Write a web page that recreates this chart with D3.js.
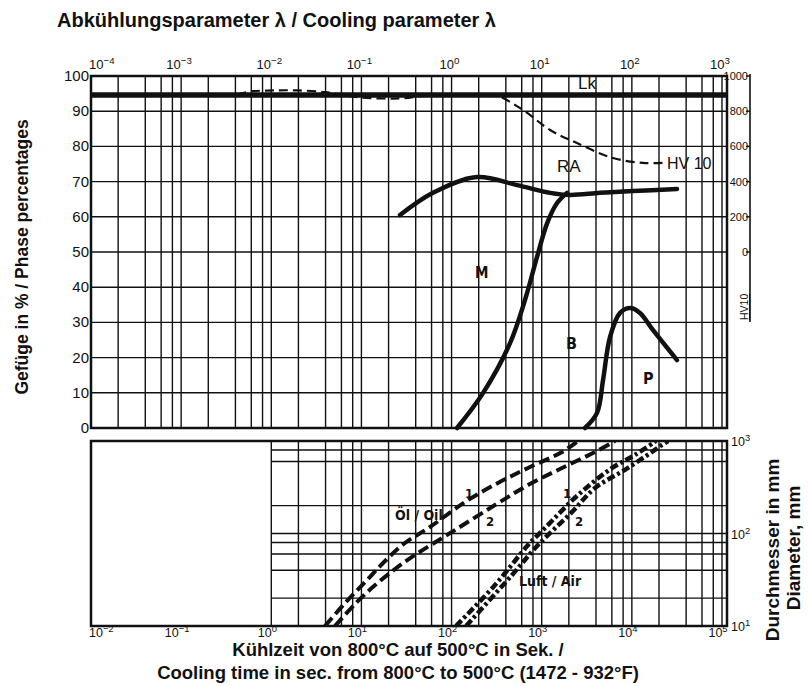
<!DOCTYPE html>
<html>
<head>
<meta charset="utf-8">
<script src="https://cdn.jsdelivr.net/npm/d3@7"></script>
<style>
  body { margin: 0; background: #fff; }
  text { font-family: "Liberation Sans", Arial, sans-serif; fill: #111; }
  .cond { font-family: "Liberation Sans Narrow", "DejaVu Sans Condensed", sans-serif; font-weight: bold; }
</style>
</head>
<body>
<div id="chart"></div>
<script>
// ---- datos ----
var topDecades = [-4, -3, -2, -1, 0, 1, 2, 3];        // lambda 10^n
var botDecades = [-2, -1, 0, 1, 2, 3, 4, 5];          // t8/5 en s
var gridMult = [1, 2, 4, 6, 8];
var pctTicks = [0, 10, 20, 30, 40, 50, 60, 70, 80, 90, 100];
var hvTicks = [0, 200, 400, 600, 800, 1000];
var diaTicks = [1, 2, 3];                              // 10^1..10^3 mm
var diaGrid = [10, 20, 40, 60, 80, 100, 200, 600, 800, 1000];
var lkLevel = 94.6;                                    // % linea Lk

// [lambda, HV10]
var hvCurve = [[0.0042, 895], [0.0058, 912], [0.0105, 918], [0.02, 918], [0.04, 908], [0.06, 893],
  [0.1, 878], [0.2, 872], [0.3, 874], [0.5, 887], [1, 892], [2, 892], [3.2, 887], [6.2, 807],
  [12.4, 693], [24.6, 619], [61.8, 534], [133, 506], [222, 506]];
// [lambda, %]
var raCurve = [[0.268, 60.5], [0.622, 66.8], [1.91, 71.3], [5.32, 69.0], [12.4, 66.8], [20.6, 66.2],
  [44.4, 66.8], [103, 67.3], [317, 67.9]];
var mCurve = [[1.15, 0], [2.23, 9.9], [4.45, 24.1], [6.53, 36.4], [8.87, 48.6], [11.5, 58.2],
  [14.8, 63.9], [19.1, 66.8]];
var pCurve = [[30.2, 0], [41.1, 4.3], [47.9, 13.6], [57.3, 25.9], [74, 32.7], [95.5, 34.1],
  [123, 32.7], [172, 27.8], [317, 19.3]];
// [t8/5 s, Durchmesser mm]
var oil1 = [[3.94, 10], [6.58, 17.7], [11.0, 29.9], [18.3, 50.5], [30.4, 78.9], [57.6, 117.5], [141, 219],
  [327, 352], [705, 511], [1680, 760], [2530, 1000]];
var oil2 = [[5.09, 10], [8.49, 17.3], [14.2, 27.7], [23.6, 41.3], [39.3, 58.6], [101, 104], [303, 203],
  [705, 334], [1680, 511], [3900, 760], [6500, 1000]];
var air1 = [[112, 10], [303, 27.7], [705, 75], [1090, 115], [2530, 261], [6030, 511], [10800, 706], [18500, 1000]];
var air2 = [[145, 10], [469, 35.6], [910, 75], [2170, 171], [3900, 310], [9060, 511], [21600, 906], [25200, 1000]];

var W = 808, H = 686;
var left = 91, right = 727, xEnd = 722;

var svg = d3.select("#chart").append("svg")
  .attr("width", W).attr("height", H);

// escalas
var xTop = d3.scaleLog().domain([1e-4, 1e3]).range([left, xEnd]);
var xBot = d3.scaleLog().domain([1e-2, 1e5]).range([left, xEnd]);
var yPct = d3.scaleLinear().domain([0, 100]).range([428, 76]);
var yHV = d3.scaleLinear().domain([0, 1000]).range([yPct(50), yPct(100)]);
var yDia = d3.scaleLog().domain([10, 1000]).range([626, 441]);

function supLabel(sel, base, exp, size) {
  sel.append("tspan").text(base);
  sel.append("tspan").attr("dy", -size * 0.4).style("font-size", (size * 0.75) + "px").text(exp);
}
function expStr(n) { return n < 0 ? "\u2212" + (-n) : String(n); }

// ---------- panel superior ----------
var gTop = svg.append("g");
var vTop = [];
topDecades.forEach(function(d) {
  gridMult.forEach(function(m) { var v = m * Math.pow(10, d); if (v <= 1e3) vTop.push(v); });
});
gTop.selectAll(".vg").data(vTop).enter().append("line")
  .attr("x1", function(d) { return xTop(d); }).attr("x2", function(d) { return xTop(d); })
  .attr("y1", yPct(100)).attr("y2", yPct(0))
  .attr("stroke", "#111").attr("stroke-width", 1.4);
gTop.selectAll(".hg").data(pctTicks).enter().append("line")
  .attr("x1", left).attr("x2", right)
  .attr("y1", function(d) { return yPct(d); }).attr("y2", function(d) { return yPct(d); })
  .attr("stroke", "#111").attr("stroke-width", 1.4);
gTop.append("rect").attr("x", left).attr("y", yPct(100)).attr("width", right - left)
  .attr("height", yPct(0) - yPct(100)).attr("fill", "none").attr("stroke", "#111").attr("stroke-width", 2.5);

// etiquetas eje superior
topDecades.forEach(function(d, i) {
  var t = gTop.append("text").attr("x", i === 0 ? left - 2 : xTop(Math.pow(10, d)) - 2)
    .attr("y", 69).attr("text-anchor", i === 0 ? "start" : "middle").style("font-size", "13px");
  supLabel(t, "10", expStr(d), 13);
});
// eje izquierdo
gTop.selectAll(".pl").data(pctTicks).enter().append("text")
  .attr("x", 89).attr("y", function(d) { return yPct(d) + 5; })
  .attr("text-anchor", "end").style("font-size", "15px").text(function(d) { return d; });

// eje HV a la derecha
var hvX = 750;
gTop.append("line").attr("x1", hvX).attr("x2", hvX).attr("y1", yHV(1000) - 2).attr("y2", 322)
  .attr("stroke", "#111").attr("stroke-width", 1.6);
gTop.selectAll(".ht").data(hvTicks).enter().append("line")
  .attr("x1", hvX - 4).attr("x2", hvX)
  .attr("y1", function(d) { return yHV(d); }).attr("y2", function(d) { return yHV(d); })
  .attr("stroke", "#111").attr("stroke-width", 1.4);
gTop.selectAll(".hl").data(hvTicks).enter().append("text")
  .attr("x", hvX - 2).attr("y", function(d) { return yHV(d) + 4; })
  .attr("text-anchor", "end").style("font-size", "11px").text(function(d) { return d; });
gTop.append("text").attr("transform", "translate(748,320) rotate(-90)")
  .style("font-size", "10.5px").style("text-decoration", "underline").text("HV10");

// Lk
gTop.append("line").attr("x1", left).attr("x2", right)
  .attr("y1", yPct(lkLevel)).attr("y2", yPct(lkLevel))
  .attr("stroke", "#111").attr("stroke-width", 5.5);

var lineTop = d3.line().curve(d3.curveCatmullRom.alpha(0.5))
  .x(function(d) { return xTop(d[0]); }).y(function(d) { return yPct(d[1]); });
var lineHV = d3.line().curve(d3.curveCatmullRom.alpha(0.5))
  .x(function(d) { return xTop(d[0]); }).y(function(d) { return yHV(d[1]); });

gTop.append("path").datum(hvCurve).attr("d", lineHV)
  .attr("fill", "none").attr("stroke", "#111").attr("stroke-width", 2.2).attr("stroke-dasharray", "9,5");
[raCurve, mCurve, pCurve].forEach(function(c) {
  gTop.append("path").datum(c).attr("d", lineTop)
    .attr("fill", "none").attr("stroke", "#111").attr("stroke-width", 4.5)
    .attr("stroke-linecap", "round").attr("stroke-linejoin", "round");
});

// etiquetas de curvas
function lbl(g, x, y, s, size, cls) {
  var t = g.append("text").attr("x", x).attr("y", y).style("font-size", size + "px").text(s);
  if (cls) t.attr("class", cls);
  return t;
}
lbl(gTop, 578, 89, "Lk", 17);
lbl(gTop, 557, 172, "RA", 17);
lbl(gTop, 667, 169, "HV 10", 16);
lbl(gTop, 475, 278, "M", 15, "cond");
lbl(gTop, 566, 349, "B", 16, "cond");
lbl(gTop, 643, 384, "P", 16, "cond");

// ---------- panel inferior ----------
var gBot = svg.append("g");
var gx0 = xBot(1);
var vBot = [];
botDecades.forEach(function(d) {
  gridMult.forEach(function(m) { var v = m * Math.pow(10, d); if (v >= 1 && v <= 1e5) vBot.push(v); });
});
gBot.selectAll(".vg").data(vBot).enter().append("line")
  .attr("x1", function(d) { return xBot(d); }).attr("x2", function(d) { return xBot(d); })
  .attr("y1", yDia(1000)).attr("y2", yDia(10))
  .attr("stroke", "#111").attr("stroke-width", 1.4);
gBot.selectAll(".hg").data(diaGrid).enter().append("line")
  .attr("x1", gx0).attr("x2", right)
  .attr("y1", function(d) { return yDia(d); }).attr("y2", function(d) { return yDia(d); })
  .attr("stroke", "#111").attr("stroke-width", 1.4);
gBot.append("rect").attr("x", left).attr("y", yDia(1000)).attr("width", right - left)
  .attr("height", yDia(10) - yDia(1000)).attr("fill", "none").attr("stroke", "#111").attr("stroke-width", 2.5);

gBot.append("clipPath").attr("id", "clipb").append("rect")
  .attr("x", left).attr("y", yDia(1000)).attr("width", right - left).attr("height", yDia(10) - yDia(1000));

var lineBot = d3.line().curve(d3.curveCatmullRom.alpha(0.5))
  .x(function(d) { return xBot(d[0]); }).y(function(d) { return yDia(d[1]); });
var cg = gBot.append("g").attr("clip-path", "url(#clipb)");
[oil1, oil2].forEach(function(c) {
  cg.append("path").datum(c).attr("d", lineBot).attr("fill", "none")
    .attr("stroke", "#111").attr("stroke-width", 4).attr("stroke-dasharray", "11,5");
});
[air1, air2].forEach(function(c) {
  cg.append("path").datum(c).attr("d", lineBot).attr("fill", "none")
    .attr("stroke", "#111").attr("stroke-width", 4.5).attr("stroke-dasharray", "8,3,3,3");
});

// etiquetas eje inferior
botDecades.forEach(function(d, i) {
  var t = gBot.append("text").attr("x", i === 0 ? left - 2 : xBot(Math.pow(10, d)) - 4)
    .attr("y", 637).attr("text-anchor", i === 0 ? "start" : "middle").style("font-size", "12.5px");
  supLabel(t, "10", expStr(d), 12.5);
});
// eje derecho diametro
diaTicks.forEach(function(d) {
  var t = gBot.append("text").attr("x", 731).attr("y", yDia(Math.pow(10, d)) + 5).style("font-size", "12.5px");
  supLabel(t, "10", expStr(d), 12.5);
});

lbl(gBot, 395, 520, "\u00d6l / Oil", 14, "cond");
lbl(gBot, 465, 498, "1", 13, "cond");
lbl(gBot, 486, 526, "2", 13, "cond");
lbl(gBot, 563, 498, "1", 13, "cond");
lbl(gBot, 575, 526, "2", 13, "cond");
lbl(gBot, 519, 586, "Luft / Air", 14, "cond");

// ---------- titulos ----------
svg.append("text").attr("x", 57).attr("y", 27).style("font-size", "20px").style("font-weight", "bold")
  .text("Abk\u00fchlungsparameter \u03bb / Cooling parameter \u03bb");
svg.append("text").attr("transform", "translate(28,257) rotate(-90)").attr("text-anchor", "middle")
  .style("font-size", "17.5px").style("font-weight", "bold").text("Gef\u00fcge in % / Phase percentages");
svg.append("text").attr("x", 398).attr("y", 656).attr("text-anchor", "middle")
  .style("font-size", "18.5px").style("font-weight", "bold").text("K\u00fchlzeit von 800\u00b0C auf 500\u00b0C in Sek. /");
svg.append("text").attr("x", 398).attr("y", 679).attr("text-anchor", "middle")
  .style("font-size", "18.5px").style("font-weight", "bold").text("Cooling time in sec. from 800\u00b0C to 500\u00b0C (1472 - 932\u00b0F)");
svg.append("text").attr("transform", "translate(779,550) rotate(-90)").attr("text-anchor", "middle")
  .style("font-size", "19px").style("font-weight", "bold").text("Durchmesser in mm");
svg.append("text").attr("transform", "translate(800,548) rotate(-90)").attr("text-anchor", "middle")
  .style("font-size", "19px").style("font-weight", "bold").text("Diameter, mm");
</script>
</body>
</html>
